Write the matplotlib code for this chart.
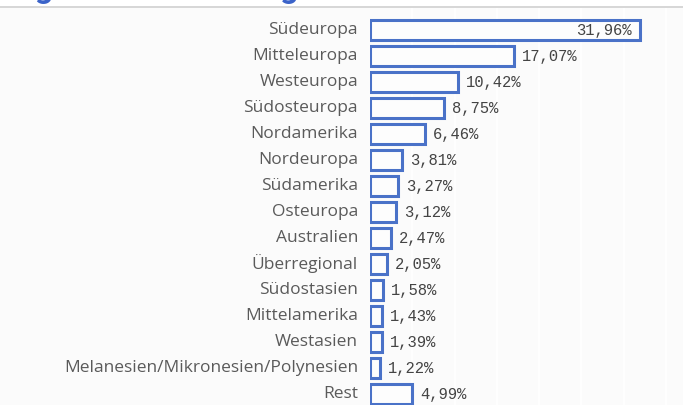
import matplotlib
matplotlib.use("Agg")
import matplotlib.pyplot as plt
from matplotlib.lines import Line2D

categories = ["Südeuropa", "Mitteleuropa", "Westeuropa", "Südosteuropa", "Nordamerika",
              "Nordeuropa", "Südamerika", "Osteuropa", "Australien", "Überregional",
              "Südostasien", "Mittelamerika", "Westasien",
              "Melanesien/Mikronesien/Polynesien", "Rest"]
values = [31.96, 17.07, 10.42, 8.75, 6.46, 3.81, 3.27, 3.12, 2.47, 2.05,
          1.58, 1.43, 1.39, 1.22, 4.99]
title = "Regionale Verteilung"

W, H = 683, 405
fig = plt.figure(figsize=(W / 100, H / 100), dpi=100)
fig.patch.set_facecolor("white")

# background panel below the separator line
top_px = 7
bg = fig.add_axes([0, 0, 1, 1 - top_px / H])
bg.set_facecolor("#fbfbfb")
bg.set_xticks([]); bg.set_yticks([])
for s in bg.spines.values():
    s.set_visible(False)

fig.add_artist(Line2D([0, 1], [1 - top_px / H, 1 - top_px / H], transform=fig.transFigure,
                      color="#d0d0d0", lw=1.2))

# title mostly cut off at the top
fig.text(-0.005, 1.0 + 2 / H, title, fontsize=23, fontweight="bold", color="#3b63c9",
         family="Roboto", va="baseline", ha="left")

left_px = 370
ax = fig.add_axes([left_px / W, 0, 1 - left_px / W, 1 - top_px / H])
ax.patch.set_alpha(0)
px_per_unit = 8.45
ax.set_xlim(0, (W - left_px) / px_per_unit)
row0, step = 30, 26
ax.set_ylim((H - row0) / step, (top_px - row0) / step)

for x in range(5, 40, 5):
    ax.axvline(x, color="white", lw=1.3, zorder=0)

y = list(range(len(categories)))
ax.barh(y, values, height=0.78, facecolor="#fdfdfd", edgecolor="#4a72c8", linewidth=2.2, zorder=2)

for i, (c, v) in enumerate(zip(categories, values)):
    ax.text(-12 / px_per_unit, i, c, ha="right", va="center", fontsize=12.5,
            color="#5a5a5a", family="Open Sans")
    lab = f"{v:.2f}%".replace(".", ",")
    if i == 0:
        ax.text(v - 8 / px_per_unit, i, lab, ha="right", va="center", fontsize=11.2,
                color="#444444", family="Liberation Mono")
    else:
        ax.text(v + 8 / px_per_unit, i, lab, ha="left", va="center", fontsize=11.2,
                color="#444444", family="Liberation Mono")

ax.set_xticks([]); ax.set_yticks([])
for s in ax.spines.values():
    s.set_visible(False)

fig.savefig("out.png", dpi=100, facecolor=fig.get_facecolor())
